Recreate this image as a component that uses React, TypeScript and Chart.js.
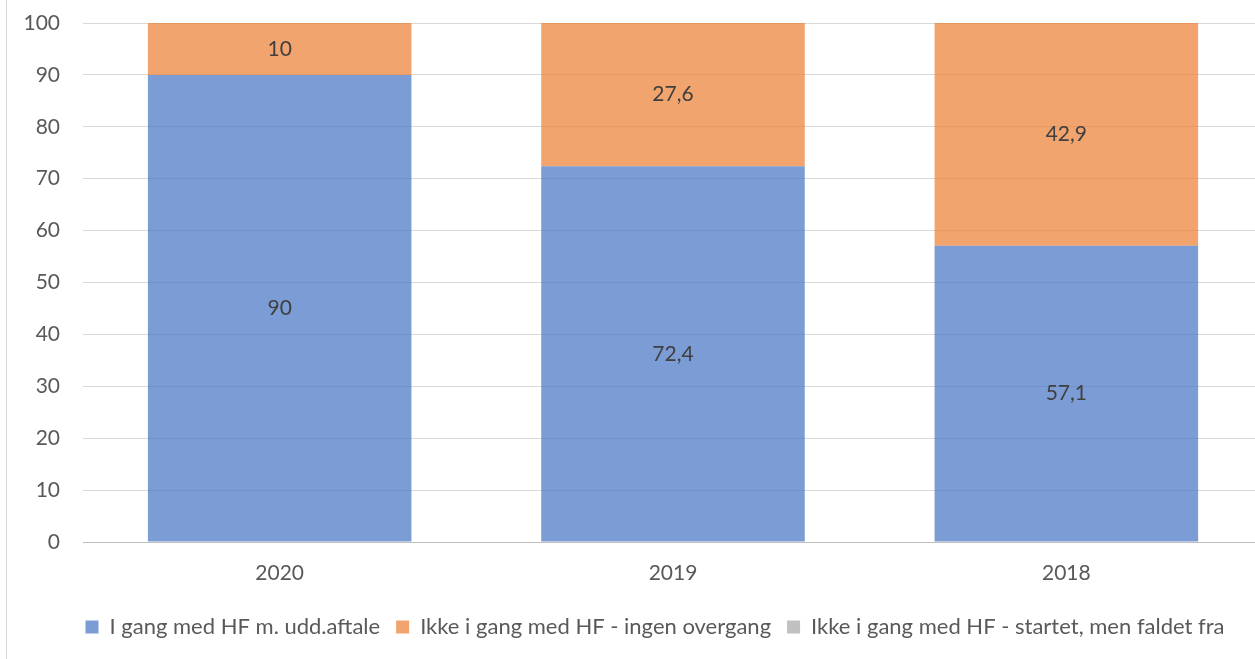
import React, { useEffect, useRef } from "react";
import { Chart, registerables } from "chart.js";

Chart.register(...registerables);

const categories = ["2020", "2019", "2018"];
const seriesNames = [
  "I gang med HF m. udd.aftale",
  "Ikke i gang med HF - ingen overgang",
  "Ikke i gang med HF - startet, men faldet fra",
];
const inProgress = [90, 72.4, 57.1];
const noTransition = [10, 27.6, 42.9];
const droppedOut = [0, 0, 0];
const seriesColors = [
  "rgba(68,114,196,0.7)",
  "rgba(237,125,49,0.7)",
  "rgba(165,165,165,0.7)",
];
const yTicks = [0, 10, 20, 30, 40, 50, 60, 70, 80, 90, 100];

const FONT = "Lato, 'Open Sans', sans-serif";

const dataLabelPlugin = {
  id: "segmentLabels",
  afterDatasetsDraw(chart: any) {
    const ctx = chart.ctx;
    ctx.save();
    ctx.font = `21px ${FONT}`;
    ctx.fillStyle = "#404040";
    ctx.textAlign = "center";
    ctx.textBaseline = "middle";
    chart.data.datasets.forEach((ds: any, di: number) => {
      const meta = chart.getDatasetMeta(di);
      if (meta.hidden) return;
      meta.data.forEach((el: any, i: number) => {
        const v = ds.data[i];
        if (!v) return;
        const txt = String(v).replace(".", ",");
        ctx.fillText(txt, el.x, (el.y + el.base) / 2);
      });
    });
    ctx.restore();
  },
};

// Centre the legend on the whole chart frame (the plot area stops 40px short of it on the right).
const legendShiftPlugin = {
  id: "legendShift",
  afterLayout(chart: any) {
    const l = chart.legend;
    if (l) {
      l.left += 20;
      l.right += 20;
    }
  },
};

export default function App() {
  const ref = useRef<HTMLCanvasElement>(null);
  useEffect(() => {
    const values = [inProgress, noTransition, droppedOut];
    const chart = new Chart(ref.current!, {
      type: "bar",
      data: {
        labels: categories,
        datasets: seriesNames.map((name, i) => ({
          label: name,
          data: values[i],
          backgroundColor: seriesColors[i],
          borderWidth: 0,
          categoryPercentage: 1,
          barPercentage: 0.67,
        })),
      },
      options: {
        animation: false,
        responsive: true,
        maintainAspectRatio: false,
        layout: { padding: { top: 23, left: 0, right: 40, bottom: 11 } },
        plugins: {
          tooltip: { enabled: false },
          legend: {
            position: "bottom",
            labels: {
              boxWidth: 13,
              boxHeight: 13,
              padding: 16,
              color: "#595959",
              font: { family: FONT, size: 22 },
            },
          },
        },
        scales: {
          x: {
            stacked: true,
            afterFit(scale: any) {
              scale.height = 58;
            },
            grid: { display: false, drawTicks: false },
            border: { display: true, color: "#BFBFBF", width: 1 },
            ticks: {
              color: "#595959",
              font: { family: FONT, size: 21 },
              padding: 19,
            },
          },
          y: {
            stacked: true,
            min: 0,
            max: 100,
            afterFit(scale: any) {
              scale.width = 76;
            },
            afterBuildTicks(scale: any) {
              scale.ticks = yTicks.map((v) => ({ value: v }));
            },
            grid: {
              color: "#D9D9D9",
              lineWidth: 1,
              drawTicks: true,
              tickLength: 23,
              tickColor: "rgba(0,0,0,0)",
            },
            border: { display: false },
            ticks: {
              color: "#595959",
              font: { family: FONT, size: 21 },
              padding: 0,
            },
          },
        },
      },
      plugins: [dataLabelPlugin, legendShiftPlugin],
    } as any);
    return () => chart.destroy();
  }, []);
  return (
    <div
      style={{
        position: "fixed",
        left: 6,
        top: 0,
        width: 1296,
        height: 659,
        borderLeft: "1px solid #D9D9D9",
        background: "#fff",
      }}
    >
      <canvas ref={ref} />
    </div>
  );
}
